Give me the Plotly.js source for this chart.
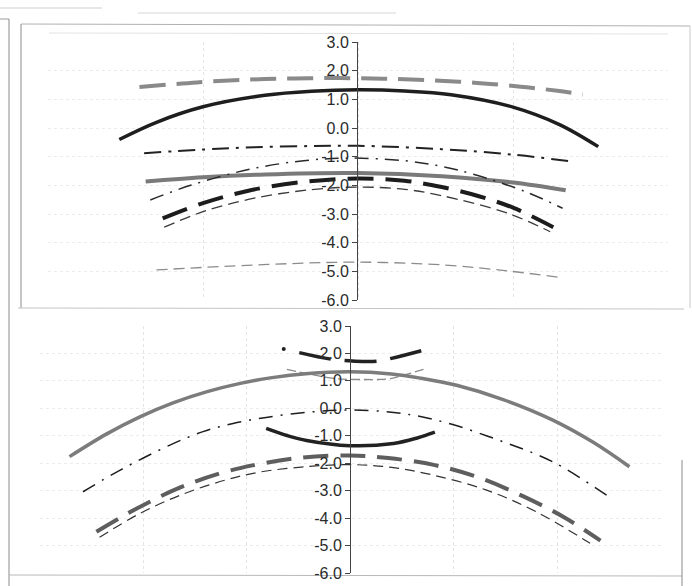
<!DOCTYPE html>
<html>
<head>
<meta charset="utf-8">
<script src="https://cdn.plot.ly/plotly-3.0.1.min.js"></script>
<style>html,body{margin:0;padding:0;background:#fff;}#chart{width:692px;height:586px;}</style>
</head>
<body>
<div id="chart"></div>
<script>
// ---------- tick labels ----------
var tickVals = [3, 2, 1, 0, -1, -2, -3, -4, -5, -6];
var tickText = ['3.0', '2.0', '1.0', '0.0', '-1.0', '-2.0', '-3.0', '-4.0', '-5.0', '-6.0'];

// ---------- top chart series ----------
var topGreyDashX = [-1.41, -1.04, -0.7, -0.41, -0.12, 0.16, 0.45, 0.75, 1.05, 1.3, 1.45];
var topGreyDashY = [1.43, 1.59, 1.69, 1.73, 1.74, 1.72, 1.67, 1.58, 1.44, 1.29, 1.17];

var topBlackSolidX = [-1.54, -1.3, -1.0, -0.6, -0.3, 0, 0.3, 0.6, 1.0, 1.3, 1.55];
var topBlackSolidY = [-0.40, 0.20, 0.74, 1.14, 1.28, 1.33, 1.29, 1.16, 0.73, 0.12, -0.65];

var topDashDot1X = [-1.38, -1.0, -0.67, -0.3, 0, 0.54, 1.0, 1.38];
var topDashDot1Y = [-0.88, -0.75, -0.67, -0.63, -0.62, -0.74, -0.93, -1.17];

var topDashDot2X = [-1.34, -1.08, -0.7, -0.35, -0.05, 0.3, 0.54, 0.75, 1.08, 1.32];
var topDashDot2Y = [-2.51, -2.0, -1.44, -1.14, -1.05, -1.14, -1.34, -1.62, -2.22, -2.80];

var topGreySolidX = [-1.37, -1.0, -0.6, 0, 0.54, 1.0, 1.34];
var topGreySolidY = [-1.87, -1.72, -1.62, -1.57, -1.68, -1.90, -2.17];

var topBlackDashX = [-1.26, -1.0, -0.7, -0.35, 0, 0.3, 0.54, 0.78, 1.0, 1.26];
var topBlackDashY = [-3.15, -2.62, -2.18, -1.88, -1.76, -1.84, -2.06, -2.38, -2.78, -3.46];

var topThinDashX = [-1.25, -1.0, -0.67, -0.3, 0, 0.3, 0.54, 0.97, 1.24];
var topThinDashY = [-3.46, -2.92, -2.45, -2.15, -2.06, -2.14, -2.36, -2.98, -3.62];

var topLowDashX = [-1.30, -0.58, 0, 0.56, 0.99, 1.30];
var topLowDashY = [-4.95, -4.76, -4.68, -4.78, -5.00, -5.21];

// ---------- bottom chart series ----------
var botGreyArcX = [-2.71, -2.35, -2.03, -1.71, -1.38, -1.06, -0.77, -0.4, 0, 0.4, 0.68, 1.03, 1.48, 1.96, 2.35, 2.70];
var botGreyArcY = [-1.76, -0.93, -0.31, 0.20, 0.61, 0.91, 1.11, 1.27, 1.33, 1.25, 1.10, 0.84, 0.32, -0.43, -1.24, -2.13];

var botDashDotX = [-2.58, -2.22, -1.74, -1.42, -1.13, -0.81, -0.4, 0, 0.4, 0.68, 1.0, 1.48, 1.96, 2.50];
var botDashDotY = [-3.04, -2.25, -1.34, -0.85, -0.55, -0.33, -0.14, -0.06, -0.14, -0.30, -0.60, -1.22, -1.95, -3.22];

var botThickDashX = [-2.45, -2.06, -1.64, -1.24, -0.93, -0.48, 0, 0.37, 0.82, 1.25, 1.67, 2.06, 2.42];
var botThickDashY = [-4.50, -3.65, -2.88, -2.35, -2.07, -1.80, -1.72, -1.81, -2.07, -2.53, -3.20, -3.95, -4.82];

var botThinDashX = [-2.42, -2.03, -1.61, -1.19, -0.87, -0.4, 0, 0.4, 0.80, 1.32, 1.80, 2.32];
var botThinDashY = [-4.70, -3.83, -3.12, -2.60, -2.32, -2.12, -2.05, -2.15, -2.43, -2.98, -3.77, -4.92];

var botSmallSolidX = [-0.81, -0.6, -0.42, 0, 0.42, 0.65, 0.82];
var botSmallSolidY = [-0.73, -1.0, -1.17, -1.36, -1.28, -1.08, -0.87];

var botSmallDashX = [-0.49, -0.18, 0.05, 0.26, 0.40, 0.69];
var botSmallDashY = [2.03, 1.79, 1.72, 1.72, 1.82, 2.10];

var botDotX = [-0.64];
var botDotY = [2.16];

var botThinUX = [-0.61, -0.39, -0.13, 0.13, 0.39, 0.51, 0.71];
var botThinUY = [1.42, 1.25, 1.08, 1.05, 1.08, 1.20, 1.42];

function line(x, y, xa, ya, color, width, dash) {
  return {x: x, y: y, xaxis: xa, yaxis: ya, type: 'scatter', mode: 'lines',
          line: {color: color, width: width, dash: dash || 'solid', shape: 'spline', smoothing: 1},
          hoverinfo: 'skip', showlegend: false};
}

var data = [
  line(topLowDashX, topLowDashY, 'x', 'y', '#8c8c8c', 1.3, '11px,6px'),
  line(topThinDashX, topThinDashY, 'x', 'y', '#3a3a3a', 1.3, '11px,6px'),
  line(topBlackDashX, topBlackDashY, 'x', 'y', '#1c1c1c', 4, '26px,12px'),
  line(topGreySolidX, topGreySolidY, 'x', 'y', '#7a7a7a', 4),
  line(topDashDot2X, topDashDot2Y, 'x', 'y', '#2a2a2a', 1.5, '14px,7px,2px,7px'),
  line(topDashDot1X, topDashDot1Y, 'x', 'y', '#222', 2, '17px,7px,3px,7px'),
  line(topBlackSolidX, topBlackSolidY, 'x', 'y', '#1e1e1e', 3.5),
  line(topGreyDashX, topGreyDashY, 'x', 'y', '#8a8a8a', 4, '26px,11px'),

  line(botThinDashX, botThinDashY, 'x2', 'y2', '#333', 1.2, '10px,6px'),
  line(botThickDashX, botThickDashY, 'x2', 'y2', '#5e5e5e', 4, '25px,12px'),
  line(botDashDotX, botDashDotY, 'x2', 'y2', '#1e1e1e', 1.5, '14px,8px,2px,8px'),
  line(botThinUX, botThinUY, 'x2', 'y2', '#8a8a8a', 1.3, '9px,4px'),
  line(botGreyArcX, botGreyArcY, 'x2', 'y2', '#7c7c7c', 3.5),
  line(botSmallSolidX, botSmallSolidY, 'x2', 'y2', '#222', 3.5),
  line(botSmallDashX, botSmallDashY, 'x2', 'y2', '#222', 3.5, '32px,14px'),
  {x: botDotX, y: botDotY, xaxis: 'x2', yaxis: 'y2', type: 'scatter', mode: 'markers',
   marker: {color: '#222', size: 4}, hoverinfo: 'skip', showlegend: false}
];

var W = 692, H = 586;
function px(x) { return x / W; }
function py(y) { return 1 - y / H; }
function seg(x0, y0, x1, y1, c, w) {
  return {type: 'line', xref: 'paper', yref: 'paper', x0: px(x0), y0: py(y0), x1: px(x1), y1: py(y1),
          line: {color: c, width: w}, layer: 'below'};
}

var yFont = {family: 'Liberation Sans Narrow, Liberation Sans, Arial, sans-serif', size: 16, color: '#2b2b2b'};

function yAxis(dom, pos) {
  return {domain: dom, range: [-6, 3], anchor: 'free', position: pos, side: 'left',
          tickmode: 'array', tickvals: tickVals, ticktext: tickText, tickfont: yFont,
          ticks: 'outside', ticklen: 5, tickwidth: 1, tickcolor: '#444',
          showline: true, linecolor: '#444', linewidth: 1,
          showgrid: true, gridcolor: '#ececec', griddash: 'dot', gridwidth: 1,
          zeroline: false, fixedrange: true};
}
function xAxis(dom, rng, anchor) {
  return {domain: dom, range: rng, anchor: anchor, dtick: 1, tick0: 0,
          showticklabels: false, ticks: '', showline: false,
          showgrid: true, gridcolor: '#e4e4e4', griddash: 'dot', gridwidth: 1,
          zeroline: false, fixedrange: true};
}

var layout = {
  width: W, height: H,
  margin: {l: 0, r: 0, t: 0, b: 0},
  paper_bgcolor: '#ffffff', plot_bgcolor: 'rgba(0,0,0,0)',
  showlegend: false,
  xaxis: xAxis([48 / W, 668 / W], [-2, 2], 'y'),
  yaxis: yAxis([py(300), py(42)], 357 / W),
  xaxis2: xAxis([39.5 / W, 660.5 / W], [-3, 3], 'y2'),
  yaxis2: yAxis([py(573), py(326)], 350 / W),
  shapes: [
    seg(0, 8, 102, 8, '#cfcfcf', 1),
    seg(138, 13, 396, 13, '#d6d6d6', 1),
    seg(0, 19, 9, 19, '#9a9a9a', 1),
    seg(9, 19, 9, 586, '#8a8a8a', 1),
    seg(21, 24, 690, 26, '#b0b0b0', 1),
    seg(21, 24, 21, 308, '#8a8a8a', 1),
    seg(690, 26, 690, 308, '#c8c8c8', 1),
    seg(49, 33, 668, 34, '#e2e2e2', 1),
    seg(18, 308, 684, 309, '#c4c4c4', 1),
    seg(9, 575, 682, 576, '#b8b8b8', 1),
    seg(682, 460, 682, 586, '#8a8a8a', 1)
  ]
};

Plotly.newPlot('chart', data, layout, {displayModeBar: false, staticPlot: true});
</script>
</body>
</html>
